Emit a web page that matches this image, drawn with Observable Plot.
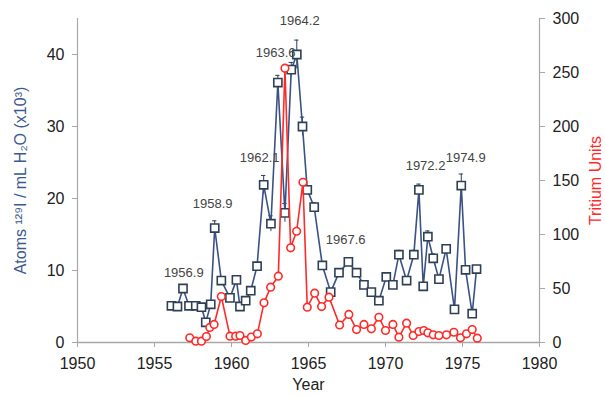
<!DOCTYPE html>
<html>
<head>
<meta charset="utf-8">
<script src="https://cdn.jsdelivr.net/npm/d3@7"></script>
<script src="https://cdn.jsdelivr.net/npm/@observablehq/plot@0.6"></script>
<style>
  html, body { margin: 0; padding: 0; background: #fff; }
  #chart { width: 605px; height: 396px; }
</style>
</head>
<body>
<div id="chart"></div>
<script>
// Iodine-129 series (left axis, atoms x10^3 per mL H2O)
const iYears = [1956.10,1956.49,1956.85,1957.24,1957.68,1958.05,1958.33,1958.65,1958.91,1959.34,1959.90,1960.32,1960.55,1960.92,1961.25,1961.66,1962.09,1962.56,1963.01,1963.47,1963.88,1964.24,1964.61,1964.92,1965.37,1965.90,1966.44,1966.98,1967.59,1968.12,1968.60,1969.08,1969.57,1970.05,1970.48,1970.87,1971.37,1971.84,1972.17,1972.45,1972.75,1973.10,1973.47,1973.94,1974.48,1974.92,1975.20,1975.63,1975.91];
const iValues = [5.1,5.0,7.5,5.1,5.1,4.9,2.8,5.3,15.9,8.6,6.2,8.7,5.0,5.8,7.2,10.6,21.9,16.5,36.1,18.0,37.9,40.0,30.0,21.2,18.8,10.7,7.0,9.7,11.2,9.7,8.0,7.0,5.8,9.1,8.0,12.2,8.6,12.2,21.2,7.8,14.7,11.7,8.8,13.0,4.6,21.8,10.1,4.0,10.2];
const iErrors = [0.4,0.4,0.5,0.4,0.4,0.4,0.4,0.4,1.0,0.5,0.4,0.5,0.4,0.4,0.5,0.5,1.3,1.1,1.0,1.3,1.0,2.0,1.3,0.6,0.6,0.5,0.4,0.5,0.6,0.5,0.4,0.4,0.4,0.5,0.5,0.6,0.5,0.6,0.8,0.4,0.8,0.6,0.5,0.6,0.4,1.6,0.5,0.4,0.5];

// Tritium series (right axis, tritium units)
const tYears = [1957.29,1957.68,1958.05,1958.37,1958.59,1958.87,1959.34,1959.90,1960.27,1960.55,1960.92,1961.29,1961.68,1962.11,1962.54,1963.04,1963.47,1963.84,1964.23,1964.64,1964.92,1965.40,1965.85,1966.33,1967.02,1967.62,1968.12,1968.60,1969.08,1969.57,1970.00,1970.48,1970.87,1971.37,1971.80,1972.17,1972.49,1972.75,1973.10,1973.47,1973.96,1974.44,1974.87,1975.26,1975.63,1975.96];
const tValues = [4.3,1.2,1.2,5.5,14,16.7,42.6,5.9,5.9,6.5,1.9,5,8,36.7,51.2,61.4,254,87.7,103,148.4,32.7,45.7,33.3,42,16.2,26,12,16.7,12.7,23.4,11.1,16.7,4.9,17.9,6.5,10.2,11.1,9,7.1,6.5,7.1,9.5,4.3,8,12,4];

// Peak annotations (text, centre year, centre value on left axis)
const noteText = ["1956.9","1958.9","1962.1","1963.6","1964.2","1967.6","1972.2","1974.9"];
const noteYear = [1956.90,1958.78,1961.83,1962.87,1964.43,1967.41,1972.60,1975.21];
const noteValue = [9.7,19.3,25.7,40.3,44.7,14.2,24.6,25.7];

// Axis ticks
const xTicks = [1950,1955,1960,1965,1970,1975,1980];
const leftTicks = [0,10,20,30,40];
const rightTicks = [0,50,100,150,200,250,300];

const leftMax = 45, rightMax = 300;
const k = leftMax / rightMax; // map tritium units onto left scale

const iData = iYears.map((x, i) => ({x, y: iValues[i], e: iErrors[i]}));
const tData = tYears.map((x, i) => ({x, y: tValues[i] * k}));
const notes = noteText.map((t, i) => ({t, x: noteYear[i], y: noteValue[i]}));

const blue = "#3b5283";
const sq = "#2f4055";
const red = "#ff2a2a";
const axisGray = "#a8a8a8";
const font = "Liberation Sans, Arial, sans-serif";

const chart = Plot.plot({
  width: 605,
  height: 396,
  marginLeft: 77,
  marginRight: 66,
  marginTop: 18,
  marginBottom: 54,
  style: {fontFamily: font, fontSize: "16px", color: "#222", background: "#fff", overflow: "visible"},
  x: {domain: [1950, 1980]},
  y: {domain: [0, leftMax]},
  marks: [
    Plot.axisX({ticks: xTicks, tickFormat: d => String(d), tickSize: 5, tickPadding: 10, stroke: axisGray, fill: "#222", fontSize: 16, label: null}),
    Plot.axisY({anchor: "left", ticks: leftTicks, tickSize: 5, tickPadding: 8, stroke: axisGray, fill: "#222", fontSize: 16, label: null}),
    Plot.axisY({anchor: "right", ticks: rightTicks.map(v => v * k), tickFormat: d => String(Math.round(d / k)), tickSize: 5, tickPadding: 8, stroke: axisGray, fill: "#222", fontSize: 16, label: null}),
    Plot.ruleY([0], {stroke: axisGray, strokeWidth: 1.5}),
    Plot.ruleX([1950, 1980], {stroke: axisGray, strokeWidth: 1.2}),
    // iodine error bars
    Plot.ruleX(iData, {x: "x", y1: d => d.y - d.e, y2: d => d.y + d.e, stroke: sq, strokeWidth: 1}),
    Plot.ruleY(iData, {y: d => d.y + d.e, x1: d => d.x - 0.14, x2: d => d.x + 0.14, stroke: sq, strokeWidth: 1}),
    Plot.line(iData, {x: "x", y: "y", stroke: blue, strokeWidth: 1.6}),
    Plot.dot(iData, {x: "x", y: "y", symbol: "square", r: 4.6, fill: "white", stroke: sq, strokeWidth: 1.6}),
    // tritium
    Plot.line(tData, {x: "x", y: "y", stroke: red, strokeWidth: 1.6}),
    Plot.dot(tData, {x: "x", y: "y", r: 3.8, fill: "white", stroke: red, strokeWidth: 1.6}),
    // annotations
    Plot.text(notes, {x: "x", y: "y", text: "t", fill: "#444", fontSize: 13}),
    // axis titles
    Plot.text(["Year"], {frameAnchor: "bottom", dy: 47, fill: "#222", fontSize: 16}),
    Plot.text(["Atoms \u00b9\u00b2\u2079I / mL H\u2082O (x10\u00b3)"], {frameAnchor: "left", textAnchor: "middle", rotate: -90, dx: -57, fill: "#3d5a8f", fontSize: 16}),
    Plot.text(["Tritium Units"], {frameAnchor: "right", textAnchor: "middle", rotate: -90, dx: 56, fill: red, fontSize: 16})
  ]
});
document.getElementById("chart").appendChild(chart);
</script>
</body>
</html>
